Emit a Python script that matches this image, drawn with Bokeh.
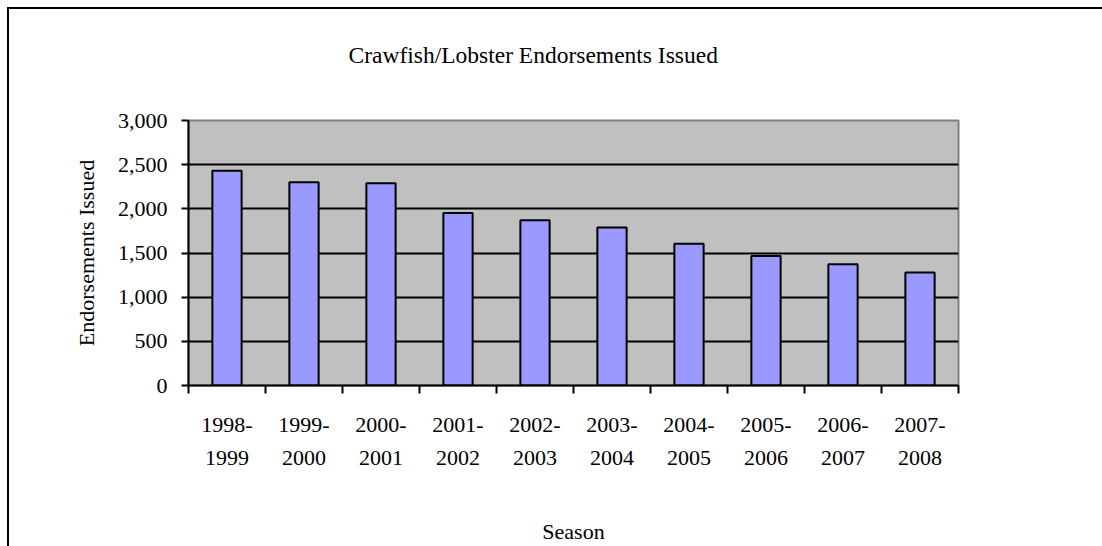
from bokeh.plotting import figure
from bokeh.models import FixedTicker, NumeralTickFormatter, Range1d, ColumnDataSource
from bokeh.embed import file_html
from bokeh.resources import INLINE

seasons = ["1998-1999", "1999-2000", "2000-2001", "2001-2002", "2002-2003",
           "2003-2004", "2004-2005", "2005-2006", "2006-2007", "2007-2008"]
tick_labels = ["1998-\n1999", "1999-\n2000", "2000-\n2001", "2001-\n2002", "2002-\n2003",
               "2003-\n2004", "2004-\n2005", "2005-\n2006", "2006-\n2007", "2007-\n2008"]
endorsements = [2432, 2300, 2289, 1953, 1870, 1790, 1605, 1465, 1372, 1278]
y_ticks = [0, 500, 1000, 1500, 2000, 2500, 3000]

TITLE = "Crawfish/Lobster Endorsements Issued"
X_LABEL = "Season"
Y_LABEL = "Endorsements Issued"
FONT = "Liberation Serif"

positions = [i + 0.5 for i in range(len(seasons))]
boundaries = list(range(len(seasons) + 1))
src = ColumnDataSource(dict(x=positions, top=endorsements, season=seasons))

p = figure(width=1102, height=561,
           x_range=Range1d(0, len(seasons)), y_range=Range1d(0, 3000),
           output_backend="svg", toolbar_location=None,
           min_border_left=188, min_border_right=144,
           min_border_top=135, min_border_bottom=161)

# outer chart-area border (top and left edges) drawn behind a transparent canvas border
p.styles = {
    "margin-top": "-15px",
    "background-color": "white",
    "background-image": "linear-gradient(#000, #000), linear-gradient(#000, #000)",
    "background-size": "2px 100%, 100% 2px",
    "background-position": "7px 22px, 7px 22px",
    "background-repeat": "no-repeat",
}
p.border_fill_color = "white"
p.border_fill_alpha = 0

p.background_fill_color = "#C0C0C0"
p.outline_line_color = "#808080"
p.outline_line_width = 2

p.vbar(x="x", top="top", bottom=0, width=0.38, source=src,
       fill_color="#9999FF", line_color="black", line_width=2)

# title
p.title.text = TITLE
p.title.text_font = FONT
p.title.text_font_size = "23.5px"
p.title.text_font_style = "normal"
p.title.text_color = "black"
p.title.align = "left"
p.title.offset = 160
p.title.vertical_align = "top"
p.title.standoff = 102

# grid
p.xgrid.visible = False
p.ygrid.ticker = FixedTicker(ticks=y_ticks)
p.ygrid.grid_line_color = "black"
p.ygrid.grid_line_width = 2

# y axis
ya = p.yaxis[0]
ya.ticker = FixedTicker(ticks=y_ticks, minor_ticks=[])
ya.formatter = NumeralTickFormatter(format="0,0")
ya.axis_line_color = "black"
ya.axis_line_width = 2
ya.major_tick_in = 0
ya.major_tick_out = 7
ya.major_tick_line_width = 2
ya.major_label_standoff = 14
ya.major_label_text_font = FONT
ya.major_label_text_font_size = "22px"
ya.major_label_text_color = "black"
ya.axis_label = Y_LABEL
ya.axis_label_text_font = FONT
ya.axis_label_text_font_size = "22px"
ya.axis_label_text_font_style = "normal"
ya.axis_label_text_color = "black"
ya.axis_label_standoff = 16

# x axis
xa = p.xaxis[0]
xa.ticker = FixedTicker(ticks=positions, minor_ticks=boundaries)
xa.major_label_overrides = {pos: lab for pos, lab in zip(positions, tick_labels)}
xa.axis_line_color = "black"
xa.axis_line_width = 2
xa.major_tick_in = 0
xa.major_tick_out = 0
xa.minor_tick_in = 0
xa.minor_tick_out = 8
xa.minor_tick_line_color = "black"
xa.minor_tick_line_width = 2
xa.major_label_standoff = 18
xa.major_label_text_font = FONT
xa.major_label_text_font_size = "22px"
xa.major_label_text_color = "black"
xa.major_label_text_line_height = 1.33
xa.axis_label = X_LABEL
xa.axis_label_text_font = FONT
xa.axis_label_text_font_size = "22px"
xa.axis_label_text_font_style = "normal"
xa.axis_label_text_color = "black"
xa.axis_label_standoff = 46

open("out.html", "w").write(file_html(p, INLINE))
